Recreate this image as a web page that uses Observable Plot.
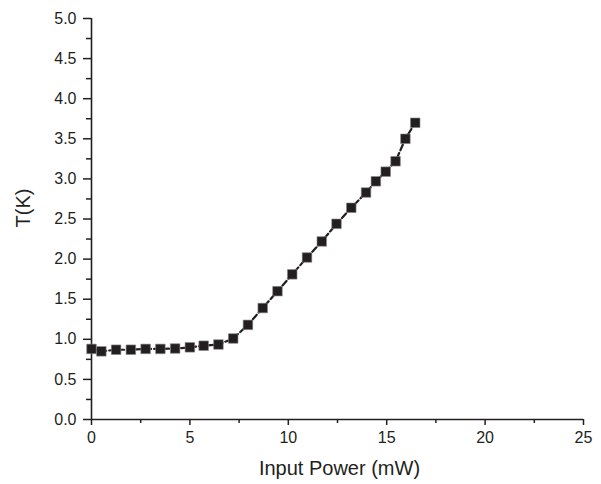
<!DOCTYPE html>
<html>
<head>
<meta charset="utf-8">
<script src="https://cdn.jsdelivr.net/npm/d3@7"></script>
<script src="https://cdn.jsdelivr.net/npm/@observablehq/plot@0.6"></script>
<style>
  html, body { margin: 0; padding: 0; background: #fff; }
  #chart svg { display: block; }
</style>
</head>
<body>
<div id="chart"></div>
<script>
const power = [0, 0.5, 1.25, 2, 2.75, 3.5, 4.25, 5, 5.7, 6.45, 7.2, 7.95, 8.7, 9.45, 10.2, 10.95, 11.7, 12.45, 13.2, 13.95, 14.45, 14.95, 15.45, 15.95, 16.45];
const temp  = [0.88, 0.85, 0.87, 0.87, 0.88, 0.88, 0.885, 0.90, 0.92, 0.935, 1.01, 1.18, 1.39, 1.60, 1.81, 2.02, 2.22, 2.44, 2.64, 2.83, 2.97, 3.09, 3.22, 3.50, 3.70];
const xMajor = [0, 5, 10, 15, 20, 25];
const xMinor = [2.5, 7.5, 12.5, 17.5, 22.5];
const yMajor = [0, 0.5, 1, 1.5, 2, 2.5, 3, 3.5, 4, 4.5, 5];
const yMinor = [0.25, 0.75, 1.25, 1.75, 2.25, 2.75, 3.25, 3.75, 4.25, 4.75];
const xTitle = "Input Power (mW)";
const yTitle = "T(K)";

const data = power.map((p, i) => ({p, t: temp[i]}));
const ink = "#231f20";

const chart = Plot.plot({
  width: 601,
  height: 484,
  marginLeft: 91,
  marginRight: 18,
  marginTop: 18,
  marginBottom: 65,
  style: {fontFamily: "'Liberation Sans', Arial, sans-serif", fontSize: "16px", color: ink, background: "#fff"},
  x: {domain: [0, 25]},
  y: {domain: [0, 5]},
  marks: [
    Plot.ruleX([0], {y1: 0, y2: 5, stroke: ink, strokeWidth: 1.6}),
    Plot.ruleY([0], {x1: 0, x2: 25, stroke: ink, strokeWidth: 1.6}),
    Plot.axisY(yMinor, {tickSize: 5, text: null, stroke: ink, strokeWidth: 1.5, label: null}),
    Plot.axisY(yMajor, {tickSize: 8, tickPadding: 7, tickFormat: d => d.toFixed(1), stroke: ink, strokeWidth: 1.5, fill: ink, fontSize: 16, label: null}),
    Plot.axisX(xMinor, {tickSize: 4, text: null, stroke: ink, strokeWidth: 1.5, label: null}),
    Plot.axisX(xMajor, {tickSize: 6, tickPadding: 6, stroke: ink, strokeWidth: 1.5, fill: ink, fontSize: 16, label: null}),
    Plot.text([xTitle], {frameAnchor: "bottom", dx: 2, dy: 55, fontSize: 20, fill: ink}),
    Plot.text([yTitle], {frameAnchor: "left", rotate: -90, dx: -68, dy: 8.5, fontSize: 20, fill: ink}),
    Plot.line(data, {x: "p", y: "t", stroke: ink, strokeWidth: 2.2, strokeDasharray: "6,3"}),
    Plot.dot(data, {x: "p", y: "t", symbol: "square", r: 5.4, fill: ink, stroke: "#888", strokeWidth: 0.6})
  ]
});
document.getElementById("chart").append(chart);
</script>
</body>
</html>
